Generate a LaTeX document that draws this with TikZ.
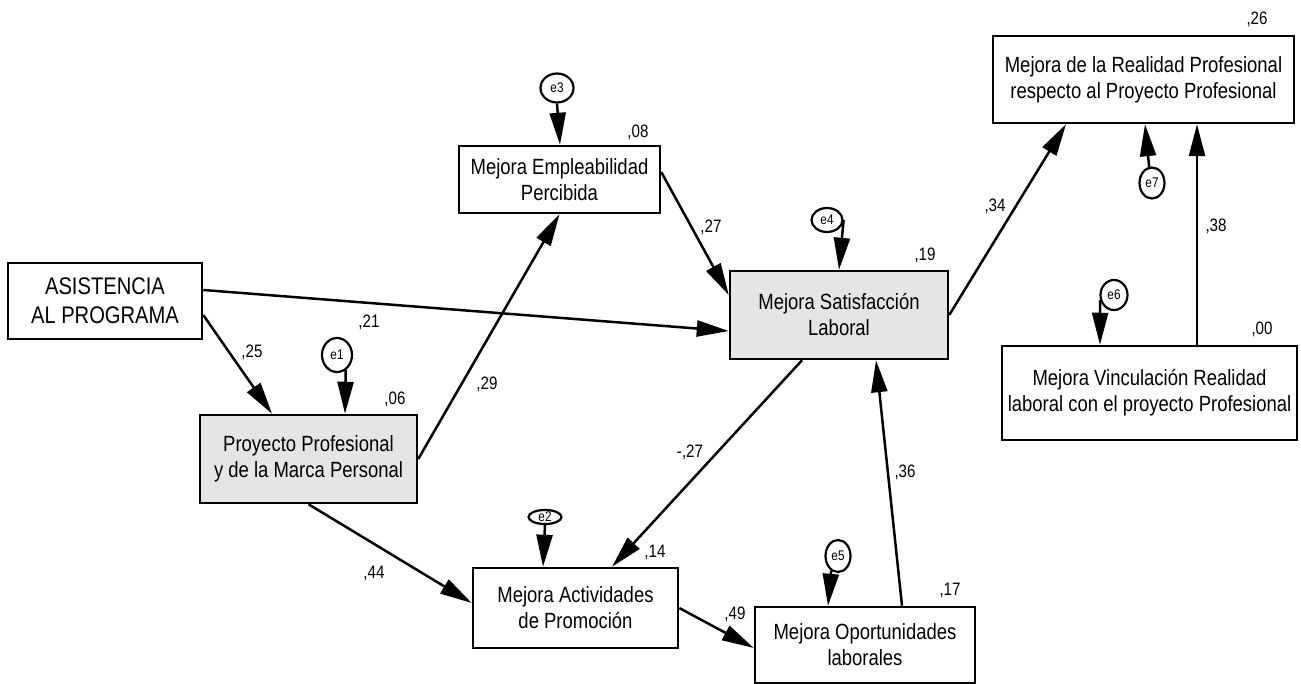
\documentclass[tikz,border=0pt]{standalone}
\usepackage{fontspec}
\setmainfont[FakeStretch=0.84]{Liberation Sans}
\usetikzlibrary{arrows.meta,shapes.geometric}
\begin{document}
\begin{tikzpicture}[x = 1pt, y = -1pt,
  varbox/.style = {draw, line width=2.5pt, align=center, inner sep=0pt,
    font=\fontsize{22}{26}\selectfont},
  endobox/.style = {varbox, fill=gray!20},
  errnode/.style = {draw, ellipse, line width=2.2pt, inner sep=0pt,
    font=\fontsize{14}{14}\selectfont},
  arr/.style = {line width=2.5pt, -{Triangle[length=32pt,width=16pt]}},
  coef/.style = {inner sep=0pt, font=\fontsize{18}{18}\selectfont}]
  \useasboundingbox (0,0) rectangle (1301,684);
  % observed variables
  \node [varbox, minimum width=194pt, minimum height=76pt, font=\fontsize{24}{29}\selectfont]
    (asist) at (105,301) {ASISTENCIA\\AL PROGRAMA};
  \node [endobox, minimum width=217pt, minimum height=88pt]
    (proy) at (308.5,459) {Proyecto Profesional\\y de la Marca Personal};
  \node [varbox, minimum width=201pt, minimum height=67pt]
    (emp) at (559.5,179.5) {Mejora Empleabilidad\\Percibida};
  \node [endobox, minimum width=218pt, minimum height=88pt]
    (sat) at (839,315) {Mejora Satisfacción\\Laboral};
  \node [varbox, minimum width=301pt, minimum height=87pt]
    (real) at (1143.5,79.5) {Mejora de la Realidad Profesional\\respecto al Proyecto Profesional};
  \node [varbox, minimum width=295pt, minimum height=94pt]
    (vinc) at (1149.5,393) {Mejora Vinculación Realidad\\laboral con el proyecto Profesional};
  \node [varbox, minimum width=205pt, minimum height=80pt]
    (act) at (575.5,608) {Mejora Actividades\\de Promoción};
  \node [varbox, minimum width=220pt, minimum height=76pt]
    (opo) at (865,645) {Mejora Oportunidades\\laborales};
  % residuals
  \node [errnode, minimum width=30pt, minimum height=34pt] (e1) at (337,355) {e1};
  \node [errnode, minimum width=33pt, minimum height=14pt] (e2) at (545,517) {e2};
  \node [errnode, minimum width=33pt, minimum height=29pt] (e3) at (557,88) {e3};
  \node [errnode, minimum width=31pt, minimum height=24pt] (e4) at (827,220) {e4};
  \node [errnode, minimum width=25pt, minimum height=32pt] (e5) at (838,556) {e5};
  \node [errnode, minimum width=27pt, minimum height=30pt] (e6) at (1114,295) {e6};
  \node [errnode, minimum width=25pt, minimum height=31pt] (e7) at (1152,183) {e7};
  % paths
  \draw [arr] ([yshift=11pt]asist.east) -- ([yshift=-16pt]sat.west);
  \draw [arr] ([yshift=-14pt]asist.east) -- ([xshift=-36.5pt]proy.north);
  \draw [arr] (proy.east) -- (emp.south);
  \draw [arr] (proy.south) -- ([yshift=5pt]act.west);
  \draw [arr] ([yshift=7.5pt]emp.east) -- ([yshift=20pt]sat.west);
  \draw [arr] ([xshift=-37pt]sat.south) -- ([xshift=36.5pt]act.north);
  \draw [arr] (act.east) -- ([yshift=-3pt]opo.west);
  \draw [arr] ([xshift=37pt]opo.north) -- ([xshift=37pt]sat.south);
  \draw [arr] (sat.east) -- ([xshift=-77.5pt]real.south);
  \draw [arr] ([xshift=47.5pt]vinc.north) -- ([xshift=53.5pt]real.south);
  \draw [arr] (e1.-60) -- ([xshift=36.5pt]proy.north);
  \draw [arr] (e2.south) -- ([xshift=-32.5pt]act.north);
  \draw [arr] (e3.south) -- ([xshift=0.5pt]emp.north);
  \draw [arr] (e4.east) -- (sat.north);
  \draw [arr] (e5.-115) -- ([xshift=-37pt]opo.north);
  \draw [arr] (e6.200) -- ([xshift=-49.5pt]vinc.north);
  \draw [arr] (e7.100) -- ([xshift=1.5pt]real.south);
  % estimates
  \node [coef] (c25) at (252,352) {,25};
  \node [coef] (c21) at (369,322) {,21};
  \node [coef] (c29) at (487,384) {,29};
  \node [coef] (c44) at (374,573) {,44};
  \node [coef] (c27) at (711,227) {,27};
  \node [coef] (cm27) at (690,452) {-,27};
  \node [coef] (c49) at (735,614) {,49};
  \node [coef] (c36) at (905,472) {,36};
  \node [coef] (c34) at (995,206) {,34};
  \node [coef] (c38) at (1216,226) {,38};
  \node [coef] (r06) at (395,399) {,06};
  \node [coef] (r08) at (638,132) {,08};
  \node [coef] (r19) at (925,255) {,19};
  \node [coef] (r26) at (1257,19) {,26};
  \node [coef] (r00) at (1262,329) {,00};
  \node [coef] (r14) at (655,552) {,14};
  \node [coef] (r17) at (950,590) {,17};
\end{tikzpicture}
\end{document}
